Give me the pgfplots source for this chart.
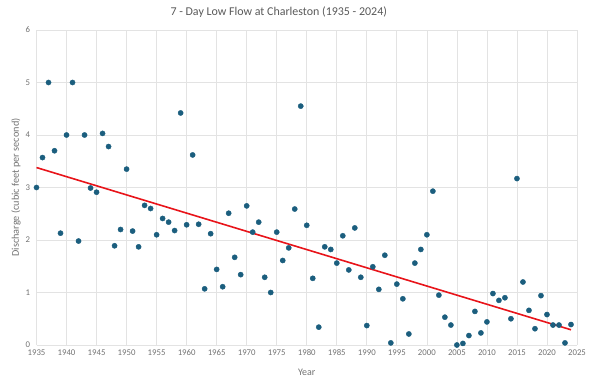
\documentclass[border=0pt]{standalone}
\usepackage{pgfplots}
\pgfplotsset{compat=1.18}
\usepackage{fontspec}
\setmainfont{Carlito}
\definecolor{dotc}{HTML}{1B5E7E}
\definecolor{trend}{HTML}{E8141A}
\definecolor{txt}{HTML}{595959}
\definecolor{grd}{HTML}{E3E3E3}
\begin{document}
\begin{tikzpicture}
\path[use as bounding box] (0,0) rectangle (600bp,380bp);
\begin{axis}[
  at={(36.5bp,35bp)}, anchor=south west,
  scale only axis, width=540.5bp, height=315bp,
  xmin=1935, xmax=2025, ymin=0, ymax=6,
  xtick={1935,1940,...,2025}, ytick={0,1,...,6},
  grid=major, major grid style={grd, line width=0.7pt},
  axis line style={draw=none}, tick style={draw=none},
  /pgf/number format/1000 sep={},
  /pgf/number format/assume math mode=true,
  ticklabel style={font=\fontsize{8.8}{10}\selectfont, text=txt!85},
  xticklabel style={yshift=-1bp},
  yticklabel style={xshift=-3bp},
  title={7 - Day Low Flow at Charleston (1935 - 2024)},
  title style={font=\fontsize{12}{14}\selectfont, text=txt, at={(0.5,1)}, anchor=center, yshift=12bp, xshift=-28bp},
  xlabel={Year}, ylabel={Discharge (cubic feet per second)},
  xlabel style={font=\fontsize{10}{12}\selectfont, text=txt!85, at={(axis description cs:0.5,0)}, anchor=center, yshift=-27bp},
  ylabel style={font=\fontsize{10.3}{12}\selectfont, text=txt!85, at={(axis description cs:-0.038,0.5)}, anchor=center},
  clip=false,
]
\addplot[only marks, mark=*, mark size=2.6bp, mark options={fill=dotc, draw=dotc}] coordinates {
(1935,3.00) (1936,3.57) (1937,5.00) (1938,3.70) (1939,2.13) (1940,4.00)
(1941,5.00) (1942,1.98) (1943,4.00) (1944,2.99) (1945,2.91) (1946,4.03)
(1947,3.78) (1948,1.89) (1949,2.20) (1950,3.35) (1951,2.17) (1952,1.87)
(1953,2.66) (1954,2.60) (1955,2.10) (1956,2.41) (1957,2.34) (1958,2.18)
(1959,4.42) (1960,2.29) (1961,3.62) (1962,2.30) (1963,1.07) (1964,2.12)
(1965,1.44) (1966,1.11) (1967,2.51) (1968,1.67) (1969,1.34) (1970,2.65)
(1971,2.15) (1972,2.34) (1973,1.29) (1974,1.00) (1975,2.15) (1976,1.61)
(1977,1.85) (1978,2.59) (1979,4.55) (1980,2.28) (1981,1.27) (1982,0.34)
(1983,1.87) (1984,1.82) (1985,1.56) (1986,2.08) (1987,1.43) (1988,2.23)
(1989,1.29) (1990,0.37) (1991,1.49) (1992,1.06) (1993,1.71) (1994,0.04)
(1995,1.16) (1996,0.88) (1997,0.21) (1998,1.56) (1999,1.82) (2000,2.10)
(2001,2.93) (2002,0.95) (2003,0.53) (2004,0.38) (2005,0.00) (2006,0.03)
(2007,0.18) (2008,0.64) (2009,0.23) (2010,0.44) (2011,0.98) (2012,0.85)
(2013,0.90) (2014,0.50) (2015,3.17) (2016,1.20) (2017,0.66) (2018,0.31)
(2019,0.94) (2020,0.58) (2021,0.38) (2022,0.38) (2023,0.04) (2024,0.39)
};
\addplot[trend, line width=1.6bp, no markers] coordinates {(1935,3.38) (2024,0.29)};
\end{axis}
\end{tikzpicture}
\end{document}
